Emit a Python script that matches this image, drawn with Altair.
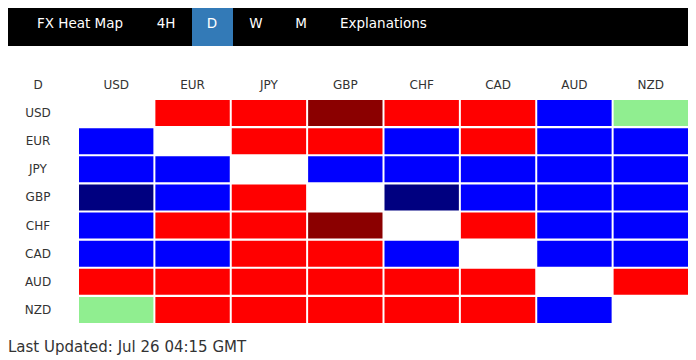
import altair as alt
import pandas as pd

# ---- data ----
currencies = ["USD", "EUR", "JPY", "GBP", "CHF", "CAD", "AUD", "NZD"]
corner_label = "D"
nav_labels = ["FX Heat Map", "4H", "D", "W", "M", "Explanations"]
updated_text = "Last Updated: Jul 26 04:15 GMT"

# signal per (row, column); None = diagonal (blank)
usd_row = [None, "down", "down", "strong_down", "down", "down", "up", "flat"]
eur_row = ["up", None, "down", "down", "up", "down", "up", "up"]
jpy_row = ["up", "up", None, "up", "up", "up", "up", "up"]
gbp_row = ["strong_up", "up", "down", None, "strong_up", "up", "up", "up"]
chf_row = ["up", "down", "down", "strong_down", None, "down", "up", "up"]
cad_row = ["up", "up", "down", "down", "up", None, "up", "up"]
aud_row = ["down", "down", "down", "down", "down", "down", None, "down"]
nzd_row = ["flat", "down", "down", "down", "down", "down", "up", None]

levels = ["strong_down", "down", "flat", "up", "strong_up"]
level_colors = ["#8B0000", "#FF0000", "#90EE90", "#0000FF", "#000080"]

rows = [usd_row, eur_row, jpy_row, gbp_row, chf_row, cad_row, aud_row, nzd_row]
records = []
for rc, vals in zip(currencies, rows):
    for cc, v in zip(currencies, vals):
        if v is not None:
            records.append({"row": rc, "col": cc, "signal": v})
cells = pd.DataFrame(records)
cur_df = pd.DataFrame({"cur": currencies})
one = pd.DataFrame({"k": [0]})

W, H = 680, 348
FONT = "DejaVu Sans"

xscale = alt.Scale(domain=currencies, range=[71, 680], paddingInner=0.026, paddingOuter=0)
yscale = alt.Scale(domain=currencies, range=[92, 315], paddingInner=0.0714, paddingOuter=0)

heat = alt.Chart(cells).mark_rect().encode(
    x=alt.X("col:N", scale=xscale, axis=None),
    y=alt.Y("row:N", scale=yscale, axis=None),
    color=alt.Color("signal:N", scale=alt.Scale(domain=levels, range=level_colors), legend=None),
)

col_labels = alt.Chart(cur_df).mark_text(
    y=77, font=FONT, fontSize=12, color="#333333", baseline="middle"
).encode(
    x=alt.X("cur:N", scale=xscale, axis=None),
    text="cur:N",
)

row_labels = alt.Chart(cur_df).mark_text(
    x=30, font=FONT, fontSize=12, color="#333333", baseline="middle"
).encode(
    y=alt.Y("cur:N", scale=yscale, axis=None),
    text="cur:N",
)

corner = alt.Chart(one).mark_text(
    x=30, y=77, font=FONT, fontSize=12, color="#333333", baseline="middle", text=corner_label
).encode(opacity=alt.value(1))

navbar = alt.Chart(one).mark_rect(color="#000000").encode(
    x=alt.value(0), x2=alt.value(W), y=alt.value(0), y2=alt.value(38)
)
tab = alt.Chart(one).mark_rect(color="#337ab7").encode(
    x=alt.value(184), x2=alt.value(225), y=alt.value(0), y2=alt.value(38)
)

nav_pos = [(29, "left"), (158, "center"), (204, "center"), (248, "center"), (293, "center"), (332, "left")]
nav_layers = []
for label, (px, al) in zip(nav_labels, nav_pos):
    nav_layers.append(
        alt.Chart(one).mark_text(
            x=px, y=16, align=al, baseline="middle", font=FONT, fontSize=13.5,
            color="#ffffff", text=label
        ).encode(opacity=alt.value(1))
    )

updated = alt.Chart(one).mark_text(
    x=0, y=344, align="left", baseline="alphabetic", font=FONT, fontSize=15,
    color="#333333", text=updated_text
).encode(opacity=alt.value(1))

chart = alt.layer(
    navbar, tab, *nav_layers, heat, col_labels, row_labels, corner, updated
).properties(
    width=W, height=H, padding=0, autosize=alt.AutoSizeParams(type="none")
).configure_view(stroke=None)

chart.save("out.html", embed_options={"renderer": "svg", "actions": False})
